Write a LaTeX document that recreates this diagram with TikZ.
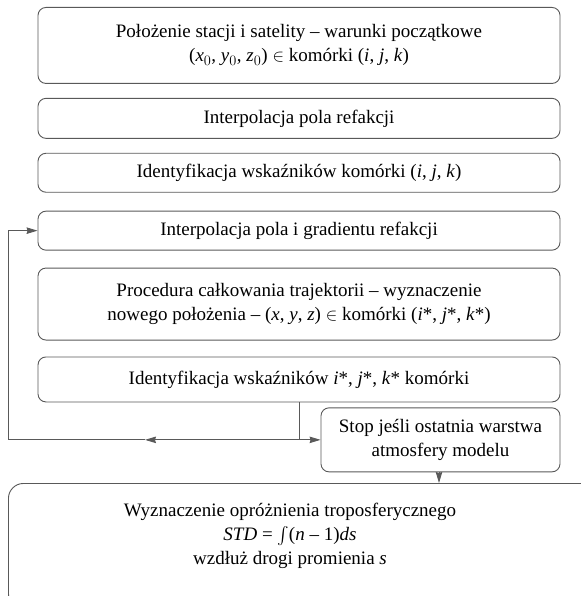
\documentclass[tikz,border=0pt]{standalone}
\usepackage{exscale}
\usepackage{fontspec}
\setmainfont{Liberation Serif}
\usetikzlibrary{positioning,arrows.meta}

\tikzset{
	krok/.style={draw=black!65, line width=0.9pt, rounded corners=8pt, minimum width=522pt,
		align=center, inner sep=2pt},
	stopbox/.style={draw=black!65, line width=0.9pt, rounded corners=8pt, minimum width=239pt,
		minimum height=64pt, align=center, inner sep=2pt},
	koniecbox/.style={draw=black!65, line width=0.9pt, rounded corners=15pt},
	linia/.style={draw=black!65, line width=0.9pt}
}

\begin{document}
\begin{tikzpicture}[x=1pt, y=1pt, >={Stealth[length=11pt,width=6.5pt,inset=1pt]},
	font=\fontsize{19}{24}\selectfont]
	\useasboundingbox (0,0) rectangle (580,-596);
	% Boxes {start, pole, indeks, grad, calk, ident}
	\node [krok, minimum height=76pt, anchor=north] (start) at (299,-7)
		{Położenie stacji i satelity – warunki początkowe\\
		 (\textit{x}$_0$, \textit{y}$_0$, \textit{z}$_0$) $\in$ komórki (\textit{i}, \textit{j}, \textit{k})};
	\node [krok, minimum height=40pt] (pole)   [below=14pt of start] {Interpolacja pola refakcji};
	\node [krok, minimum height=39pt] (indeks) [below=14pt of pole]  {Identyfikacja wskaźników komórki (\textit{i}, \textit{j}, \textit{k})};
	\node [krok, minimum height=39pt] (grad)   [below=18pt of indeks] {Interpolacja pola i gradientu refakcji};
	\node [krok, minimum height=72pt] (calk)   [below=17pt of grad]
		{Procedura całkowania trajektorii – wyznaczenie\\
		 nowego położenia – (\textit{x}, \textit{y}, \textit{z}) $\in$ komórki (\textit{i}*, \textit{j}*, \textit{k}*)};
	\node [krok, minimum height=45pt] (ident)  [below=16pt of calk]
		{Identyfikacja wskaźników \textit{i}*, \textit{j}*, \textit{k}* komórki};
	\node [stopbox] (stop) [below left=5pt and 0pt of ident.south east]
		{Stop jeśli ostatnia warstwa\\ atmosfery modelu};
	
	% Final box
	\node [koniecbox, minimum width=588pt, minimum height=125pt, anchor=north west] (koniec) at (8,-483) {};
	\node [align=center] (wyzn) at (290,-536)
		{Wyznaczenie opróżnienia troposferycznego\\
		 \textit{STD} = $\int$(\textit{n} – 1)\textit{ds}\\
		 wzdłuż drogi promienia \textit{s}};
	
	% Paths
	\coordinate (rozw)  at (ident.south -| 299,0);
	\coordinate (dol)   at (rozw |- stop.west);
	\coordinate (lewo)  at (8,0 |- stop.west);
	\coordinate (gora)  at (lewo |- grad.west);
	\coordinate (srod)  at (145,0 |- stop.west);
	\path [linia] (rozw) -- (dol);
	\draw [linia, ->] (dol) -- (stop.west);
	\draw [linia, ->] (dol) -- (srod);
	\path [linia] (srod) -- (lewo) -- (gora);
	\draw [linia, ->] (gora) -- (grad.west);
	\draw [linia, ->] (stop.south -| 439,0) -- (koniec.north -| 439,0);
\end{tikzpicture}
\end{document}
